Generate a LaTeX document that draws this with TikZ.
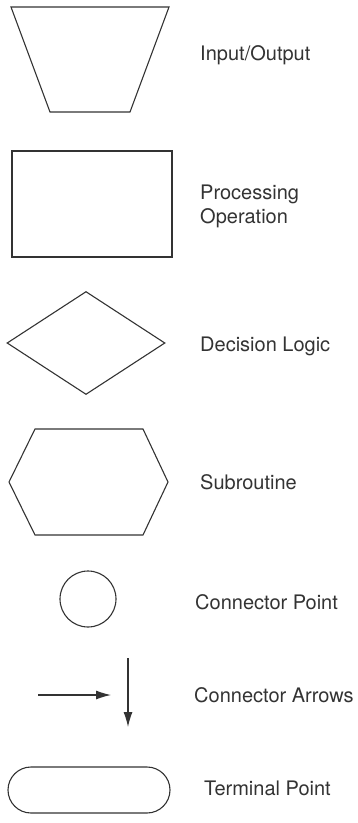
\documentclass[tikz,border=0pt]{standalone}
\usepackage{fontspec}
\setmainfont{TeX Gyre Heros}
\usetikzlibrary{arrows.meta,shapes.geometric,shapes.misc}
\definecolor{ink}{gray}{0.2}
\tikzset{
  sym/.style={draw=ink,line width=1.1pt,inner sep=0pt},
  outline/.style={draw=ink,line width=1.1pt,line join=miter},
  lbl/.style={anchor=west,text=ink,font=\fontsize{20}{24}\selectfont,align=left,inner sep=0pt},
  flow/.style={-{Latex[length=15pt,width=9pt]},line width=1.1pt,draw=ink}
}

\begin{document}
\begin{tikzpicture}[x=1pt,y=-1pt]
\useasboundingbox (0,0) rectangle (358,823);

% input/output
\draw[outline] (11,7) -- (169,7) -- (130,112) -- (50,112) -- cycle;
\node[sym,rectangle,minimum width=160pt,minimum height=106pt] (proc) at (92,204) {};
\node[sym,diamond,minimum width=158pt,minimum height=103pt] (dec) at (86,343) {};
% subroutine
\draw[outline] (35,429) -- (143,429) -- (168,482) -- (143,535) -- (35,535) -- (9,482) -- cycle;
\node[sym,circle,minimum size=56pt] (conn) at (88,599) {};
\coordinate (ha) at (38,695);
\coordinate (hb) at (111,695);
\coordinate (va) at (128,658);
\coordinate (vb) at (128,727);
\draw[flow] (ha) -- (hb);
\draw[flow] (va) -- (vb);
\node[sym,rounded rectangle,minimum width=162pt,minimum height=46pt] (term) at (89,790) {};

\node[lbl] (io-l) at (200,55) {Input/Output};
\node[lbl] (proc-l) at (200,206) {Processing\\Operation};
\node[lbl] (dec-l) at (200,346) {Decision Logic};
\node[lbl] (sub-l) at (200,482) {Subroutine};
\node[lbl] (conn-l) at (195,602) {Connector Point};
\node[lbl] (arr-l) at (194,695) {Connector Arrows};
\node[lbl] (term-l) at (204,788) {Terminal Point};

\end{tikzpicture}
\end{document}
